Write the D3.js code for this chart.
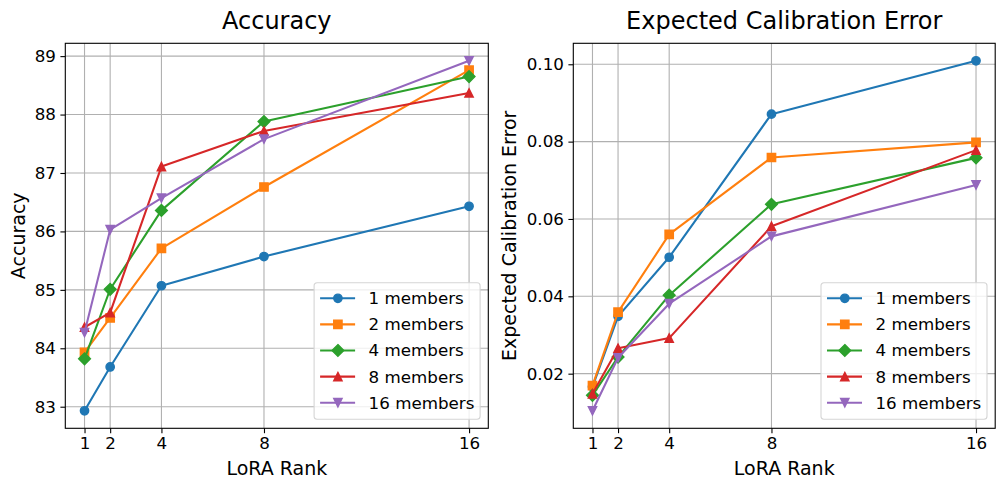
<!DOCTYPE html>
<html>
<head>
<meta charset="utf-8">
<script src="https://cdn.jsdelivr.net/npm/d3@7"></script>
<style>
  body { margin: 0; background: #fff; }
  svg text { font-family: "DejaVu Sans", sans-serif; fill: #000; }
</style>
</head>
<body>
<div id="chartContainer"></div>
<script>
const ranks = [1, 2, 4, 8, 16];
const memberLabels = ['1 members', '2 members', '4 members', '8 members', '16 members'];
const colors = ['#1f77b4', '#ff7f0e', '#2ca02c', '#d62728', '#9467bd'];
const markers = ['circle', 'square', 'diamond', 'triangleUp', 'triangleDown'];

// Accuracy per ensemble size
const acc1 = [82.93, 83.68, 85.07, 85.57, 86.43];
const acc2 = [83.93, 84.52, 85.71, 86.76, 88.76];
const acc4 = [83.82, 85.01, 86.36, 87.88, 88.65];
const acc8 = [84.36, 84.61, 87.11, 87.72, 88.37];
const acc16 = [84.27, 86.03, 86.57, 87.58, 88.92];

// Expected calibration error per ensemble size, right panel
const ece1 = [0.0166, 0.0348, 0.0501, 0.0871, 0.1009];
const ece2 = [0.0169, 0.0359, 0.0560, 0.0759, 0.0798];
const ece4 = [0.0144, 0.0243, 0.0403, 0.0638, 0.0758];
const ece8 = [0.0148, 0.0266, 0.0292, 0.0581, 0.0778];
const ece16 = [0.0104, 0.0241, 0.0381, 0.0555, 0.0688];

const accTicks = [83, 84, 85, 86, 87, 88, 89];
const eceTicks = [0.02, 0.04, 0.06, 0.08, 0.10];

const svgWidth = 1005;
const svgHeight = 490;

const svg = d3.select('#chartContainer')
    .append('svg')
    .attr('width', svgWidth)
    .attr('height', svgHeight);

// matplotlib-like marker shapes, size = 6pt
const ms = 8.33;
function markerPath(type) {
    const h = ms / 2;
    if (type === 'circle') {
        return d3.symbol(d3.symbolCircle, Math.PI * h * h)();
    }
    if (type === 'square') {
        return `M${-h},${-h}H${h}V${h}H${-h}Z`;
    }
    if (type === 'diamond') {
        const d = h * Math.SQRT2;
        return `M0,${-d}L${d},0L0,${d}L${-d},0Z`;
    }
    if (type === 'triangleUp') {
        return `M0,${-h}L${h},${h}L${-h},${h}Z`;
    }
    return `M0,${h}L${h},${-h}L${-h},${-h}Z`;
}

function paddedDomain(values) {
    const lo = d3.min(values);
    const hi = d3.max(values);
    const pad = (hi - lo) * 0.05;
    return [lo - pad, hi + pad];
}

function drawPanel(opts) {
    const { left, right, top, bottom, series, yTicks, yFormat, title, yLabel, yLabelX } = opts;
    const width = right - left;
    const height = bottom - top;

    const xScale = d3.scaleLinear()
        .domain(paddedDomain(ranks))
        .range([0, width]);

    const yScale = d3.scaleLinear()
        .domain(paddedDomain(series.flat()))
        .range([height, 0]);

    const chart = svg.append('g')
        .attr('transform', `translate(${left}, ${top})`);

    // grid
    chart.append('g')
        .selectAll('line')
        .data(ranks)
        .join('line')
        .attr('x1', d => xScale(d))
        .attr('x2', d => xScale(d))
        .attr('y1', 0)
        .attr('y2', height)
        .attr('stroke', '#b0b0b0')
        .attr('stroke-width', 1.1);

    chart.append('g')
        .selectAll('line')
        .data(yTicks)
        .join('line')
        .attr('x1', 0)
        .attr('x2', width)
        .attr('y1', d => yScale(d))
        .attr('y2', d => yScale(d))
        .attr('stroke', '#b0b0b0')
        .attr('stroke-width', 1.1);

    const line = d3.line()
        .x((d, i) => xScale(ranks[i]))
        .y(d => yScale(d));

    series.forEach((values, s) => {
        const g = chart.append('g');
        g.append('path')
            .datum(values)
            .attr('fill', 'none')
            .attr('stroke', colors[s])
            .attr('stroke-width', 2.08)
            .attr('stroke-linejoin', 'round')
            .attr('d', line);
        g.selectAll('.dot')
            .data(values)
            .join('path')
            .attr('class', 'dot')
            .attr('d', markerPath(markers[s]))
            .attr('transform', (d, i) => `translate(${xScale(ranks[i])}, ${yScale(d)})`)
            .attr('fill', colors[s])
            .attr('stroke', colors[s])
            .attr('stroke-width', 1.39);
    });

    // axes
    const xAxis = d3.axisBottom(xScale)
        .tickValues(ranks)
        .tickFormat(d3.format('d'))
        .tickSize(4.9)
        .tickPadding(4);
    const gx = chart.append('g')
        .attr('transform', `translate(0, ${height})`)
        .call(xAxis);

    const yAxis = d3.axisLeft(yScale)
        .tickValues(yTicks)
        .tickFormat(yFormat)
        .tickSize(4.9)
        .tickPadding(4.5);
    const gy = chart.append('g')
        .call(yAxis);

    [gx, gy].forEach(g => {
        g.select('.domain').remove();
        g.selectAll('.tick line').attr('stroke', '#000').attr('stroke-width', 1.1);
        g.selectAll('.tick text')
            .style('font-family', '"DejaVu Sans", sans-serif')
            .style('font-size', '16.7px')
            .attr('fill', '#000');
    });

    chart.append('rect')
        .attr('x', 0)
        .attr('y', 0)
        .attr('width', width)
        .attr('height', height)
        .attr('fill', 'none')
        .attr('stroke', '#000')
        .attr('stroke-width', 1.1);

    // titles
    svg.append('text')
        .attr('x', left + width / 2)
        .attr('y', 29)
        .attr('text-anchor', 'middle')
        .style('font-size', '24px')
        .text(title);

    svg.append('text')
        .attr('x', left + width / 2)
        .attr('y', 475)
        .attr('text-anchor', 'middle')
        .style('font-size', '19px')
        .text('LoRA Rank');

    svg.append('text')
        .attr('transform', `translate(${yLabelX}, ${top + height / 2}) rotate(-90)`)
        .attr('text-anchor', 'middle')
        .style('font-size', '19px')
        .text(yLabel);

    // legend
    const legW = 166;
    const legH = 136.6;
    const legend = chart.append('g')
        .attr('transform', `translate(${width - 8.2 - legW}, ${height - 9 - legH})`);

    legend.append('rect')
        .attr('width', legW)
        .attr('height', legH)
        .attr('rx', 3)
        .attr('fill', '#fff')
        .attr('fill-opacity', 0.8)
        .attr('stroke', '#d5d5d5')
        .attr('stroke-width', 1.1);

    memberLabels.forEach((label, s) => {
        const cy = 15.6 + s * 26.1;
        legend.append('line')
            .attr('x1', 6)
            .attr('x2', 41)
            .attr('y1', cy)
            .attr('y2', cy)
            .attr('stroke', colors[s])
            .attr('stroke-width', 2.08);
        legend.append('path')
            .attr('d', markerPath(markers[s]))
            .attr('transform', `translate(23.8, ${cy})`)
            .attr('fill', colors[s])
            .attr('stroke', colors[s])
            .attr('stroke-width', 1.39);
        legend.append('text')
            .attr('x', 54.5)
            .attr('y', cy)
            .attr('dy', '0.36em')
            .style('font-size', '16.7px')
            .text(label);
    });
}

drawPanel({
    left: 65.3, right: 488.3, top: 43.3, bottom: 428.3,
    series: [acc1, acc2, acc4, acc8, acc16],
    yTicks: accTicks,
    yFormat: d3.format('d'),
    title: 'Accuracy',
    yLabel: 'Accuracy',
    yLabelX: 25
});

drawPanel({
    left: 573.3, right: 995.2, top: 43.3, bottom: 428.3,
    series: [ece1, ece2, ece4, ece8, ece16],
    yTicks: eceTicks,
    yFormat: d3.format('.2f'),
    title: 'Expected Calibration Error',
    yLabel: 'Expected Calibration Error',
    yLabelX: 516
});
</script>
</body>
</html>
